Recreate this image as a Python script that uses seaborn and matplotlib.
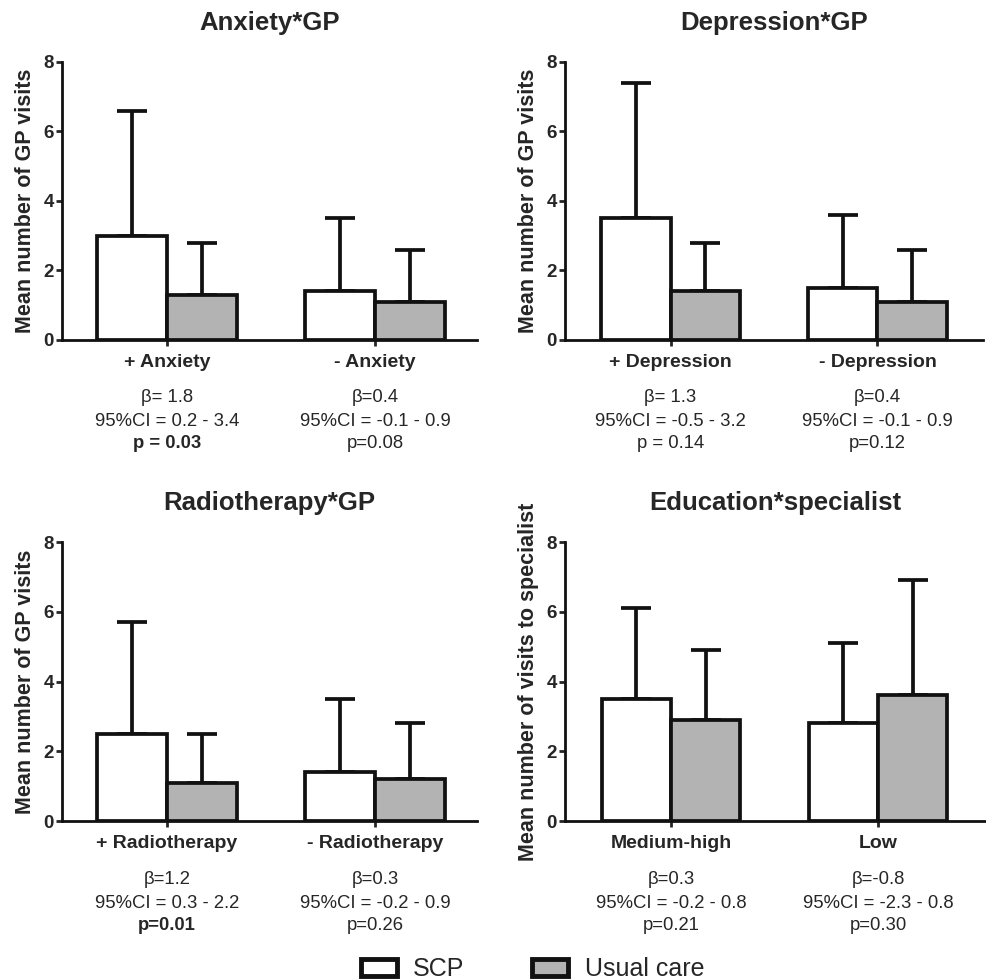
import matplotlib
matplotlib.use("Agg")
import matplotlib.pyplot as plt
from matplotlib.patches import Patch
import numpy as np
import pandas as pd
import seaborn as sns

titles = ["Anxiety*GP", "Depression*GP", "Radiotherapy*GP", "Education*specialist"]
categories = [
    ["+ Anxiety", "- Anxiety"],
    ["+ Depression", "- Depression"],
    ["+ Radiotherapy", "- Radiotherapy"],
    ["Medium-high", "Low"],
]
ylabels = [
    "Mean number of GP visits",
    "Mean number of GP visits",
    "Mean number of GP visits",
    "Mean number of visits to specialist",
]
groups = ["SCP", "Usual care"]

scp_mean = [[3.0, 1.4], [3.5, 1.5], [2.5, 1.4], [3.5, 2.8]]
scp_err = [[3.6, 2.1], [3.9, 2.1], [3.2, 2.1], [2.6, 2.3]]
uc_mean = [[1.3, 1.1], [1.4, 1.1], [1.1, 1.2], [2.9, 3.6]]
uc_err = [[1.5, 1.5], [1.4, 1.5], [1.4, 1.6], [2.0, 3.3]]

betas = [["β= 1.8", "β=0.4"], ["β= 1.3", "β=0.4"], ["β=1.2", "β=0.3"], ["β=0.3", "β=-0.8"]]
cis = [
    ["95%CI = 0.2 - 3.4", "95%CI = -0.1 - 0.9"],
    ["95%CI = -0.5 - 3.2", "95%CI = -0.1 - 0.9"],
    ["95%CI = 0.3 - 2.2", "95%CI = -0.2 - 0.9"],
    ["95%CI = -0.2 - 0.8", "95%CI = -2.3 - 0.8"],
]
pvals = [["p = 0.03", "p=0.08"], ["p = 0.14", "p=0.12"], ["p=0.01", "p=0.26"], ["p=0.21", "p=0.30"]]

palette = {"SCP": "white", "Usual care": "#b3b3b3"}

sns.set_style("white")
plt.rcParams["font.family"] = ["Liberation Sans", "DejaVu Sans"]

W, H = 986, 980
fig = plt.figure(figsize=(W / 100, H / 100), dpi=100)

# axes boxes in pixels: left, right, top, bottom
boxes = [(62, 477, 62, 340), (565, 983, 62, 340), (62, 477, 542, 821), (565, 985, 542, 821)]
xlims = [(-0.505, 1.49), (-0.51, 1.51), (-0.505, 1.49), (-0.512, 1.517)]

lw = 2.7
for i in range(4):
    l, r, t, b = boxes[i]
    ax = fig.add_axes([l / W, 1 - b / H, (r - l) / W, (b - t) / H])

    df = pd.DataFrame({
        "category": categories[i] * 2,
        "group": [groups[0]] * 2 + [groups[1]] * 2,
        "mean": scp_mean[i] + uc_mean[i],
        "err": scp_err[i] + uc_err[i],
    })

    sns.barplot(
        data=df, x="category", y="mean", hue="group", hue_order=groups,
        palette=palette, edgecolor="#111111", linewidth=lw,
        width=0.67, gap=0, errorbar=None, legend=False, ax=ax
    )

    for cont, g in zip(ax.containers, groups):
        sub = df[df["group"] == g]
        xs = [p.get_x() + p.get_width() / 2 for p in cont.patches]
        ax.errorbar(
            xs, sub["mean"], yerr=[np.zeros(len(sub)), sub["err"]],
            fmt="none", ecolor="#111111", elinewidth=lw, capsize=11,
            capthick=lw, zorder=0.5
        )

    ax.set_xlim(*xlims[i])
    ax.set_ylim(0, 8)
    ax.set_yticks([0, 2, 4, 6, 8])
    sns.despine(ax=ax)
    for s in ["left", "bottom"]:
        ax.spines[s].set_linewidth(2.0)
        ax.spines[s].set_color("#111111")
    ax.tick_params(axis="y", direction="out", length=4, width=2.0, labelsize=13.5, left=True, pad=2)
    ax.tick_params(axis="x", direction="out", length=4, width=2.0, labelsize=14, bottom=True, pad=6)
    for lab in ax.get_xticklabels() + ax.get_yticklabels():
        lab.set_fontweight("bold")
    ax.set_xlabel("")
    ax.set_ylabel(ylabels[i], fontsize=15.5, fontweight="bold", labelpad=5)
    ax.set_title(titles[i], fontsize=18.5, fontweight="bold", pad=23)

    for j in range(2):
        ax.annotate(betas[i][j], xy=(j, 0), xytext=(0, -58), textcoords="offset pixels",
                    ha="center", va="center", fontsize=13.3)
        ax.annotate(cis[i][j], xy=(j, 0), xytext=(0, -82), textcoords="offset pixels",
                    ha="center", va="center", fontsize=13.3)
        pv = float(pvals[i][j].split("=")[-1])
        ax.annotate(pvals[i][j], xy=(j, 0), xytext=(0, -104), textcoords="offset pixels",
                    ha="center", va="center", fontsize=13.3,
                    fontweight="bold" if pv < 0.05 else "normal")

handles = [Patch(facecolor=palette[g], edgecolor="#111111", linewidth=3.5) for g in groups]
fig.legend(handles, groups, loc="center", bbox_to_anchor=(0.54, 0.011), ncol=2,
           frameon=False, fontsize=18, handlelength=1.45, handleheight=0.7,
           handletextpad=0.65, columnspacing=2.7)

fig.savefig("out.png", dpi=100)
